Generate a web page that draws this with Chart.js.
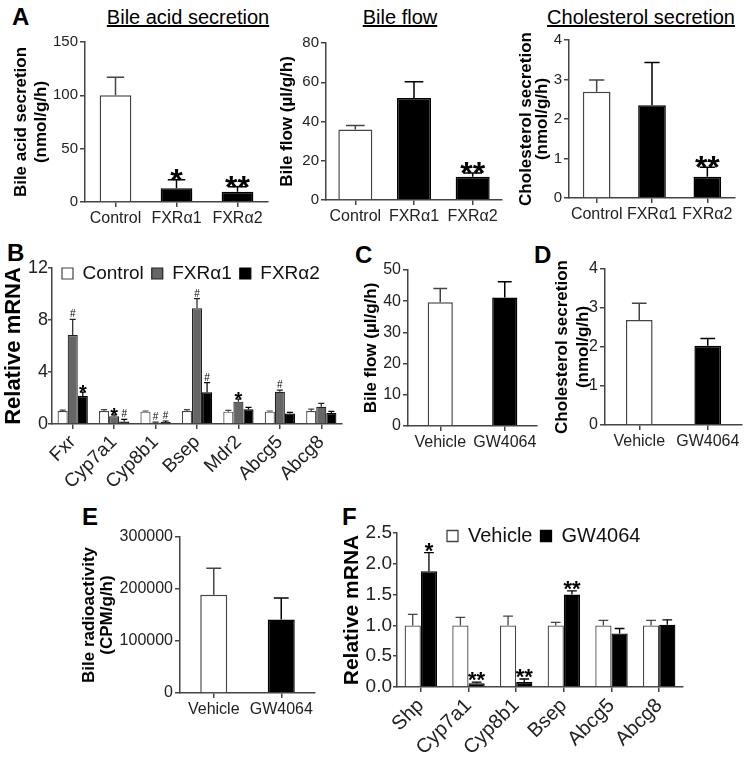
<!DOCTYPE html>
<html>
<head>
<meta charset="utf-8">
<script src="https://cdn.jsdelivr.net/npm/chart.js@4.4.1/dist/chart.umd.min.js"></script>
<style>
  body { margin: 0; background: #fff; }
  #page { position: relative; width: 754px; height: 760px; overflow: hidden; font-family: 'Liberation Sans', Arial, sans-serif; }
  canvas { position: absolute; }
  .letter { position: absolute; font-weight: bold; font-size: 24px; line-height: 24px; color: #000; }
  .title { position: absolute; width: 300px; text-align: center; font-size: 20px; line-height: 20px; text-decoration: underline; color: #000; }
</style>
</head>
<body>
<div id="page">
  <div class="letter" style="left:12px;top:5px">A</div>
  <div class="letter" style="left:7px;top:241px">B</div>
  <div class="letter" style="left:355px;top:243px">C</div>
  <div class="letter" style="left:534px;top:243px">D</div>
  <div class="letter" style="left:82px;top:505px">E</div>
  <div class="letter" style="left:342px;top:505px">F</div>
  <div class="title" style="left:38px;top:7px">Bile acid secretion</div>
  <div class="title" style="left:250px;top:7px">Bile flow</div>
  <div class="title" style="left:491px;top:7px">Cholesterol secretion</div>
  <canvas id="a1"></canvas>
  <canvas id="a2"></canvas>
  <canvas id="a3"></canvas>
  <canvas id="b"></canvas>
  <canvas id="c"></canvas>
  <canvas id="d"></canvas>
  <canvas id="e"></canvas>
  <canvas id="f"></canvas>
</div>
<script>
// --- data ---
const aGroups = ['Control', 'FXRα1', 'FXRα2'];
const bileAcidSec = [100, 12.8, 9.7];
const bileAcidSecSem = [17, 8, 4.5];
const bileAcidSecMarks = ['', '*', '**'];
const bileFlowA = [35.9, 52, 11.9];
const bileFlowASem = [2, 8.2, 1.8];
const bileFlowAMarks = ['', '', '**'];
const cholSecA = [2.69, 2.35, 0.54];
const cholSecASem = [0.3, 1.08, 0.24];
const cholSecAMarks = ['', '', '**'];

const bGenes = ['Fxr', 'Cyp7a1', 'Cyp8b1', 'Bsep', 'Mdr2', 'Abcg5', 'Abcg8'];
const bControl = [1, 1, 0.95, 1, 0.95, 0.95, 1];
const bControlSem = [0.06, 0.1, 0.05, 0.1, 0.1, 0.05, 0.15];
const bFxrA1 = [6.85, 0.6, 0.1, 8.9, 1.72, 2.48, 1.33];
const bFxrA1Sem = [1.2, 0.1, 0.05, 0.75, 0.2, 0.12, 0.26];
const bFxrA1Marks = ['#', '*', '#', '#', '*', '#', ''];
const bFxrA2 = [2.15, 0.2, 0.15, 2.44, 1.13, 0.8, 0.85];
const bFxrA2Sem = [0.3, 0.15, 0.08, 0.74, 0.15, 0.1, 0.12];
const bFxrA2Marks = ['*', '#', '#', '#', '', '', ''];

const gwGroups = ['Vehicle', 'GW4064'];
const bileFlowGW = [39.7, 41.2];
const bileFlowGWSem = [4.4, 5];
const cholSecGW = [2.69, 2.03];
const cholSecGWSem = [0.43, 0.19];
const radioactivity = [189000, 141500];
const radioactivitySem = [51000, 41000];

const fGenes = ['Shp', 'Cyp7a1', 'Cyp8b1', 'Bsep', 'Abcg5', 'Abcg8'];
const fVehicle = [1, 1, 1, 1, 1, 1];
const fVehicleSem = [0.18, 0.13, 0.15, 0.05, 0.08, 0.08];
const fGW = [1.88, 0.06, 0.08, 1.5, 0.87, 1.01];
const fGWSem = [0.3, 0.02, 0.05, 0.06, 0.08, 0.08];
const fGWMarks = ['*', '**', '**', '**', '', ''];

const FONT = "'Liberation Sans', Arial, sans-serif";
const AXIS = '#444';
const TICK = '#222';
const WHITE_EDGE = '#444';

Chart.defaults.font.family = FONT;
Chart.defaults.color = TICK;

// upper error bar + significance marks
const errorBars = {
  id: 'errorBars',
  afterDatasetsDraw(chart, args, opts) {
    const ctx = chart.ctx;
    const y = chart.scales.y;
    chart.data.datasets.forEach((ds, i) => {
      const meta = chart.getDatasetMeta(i);
      meta.data.forEach((bar, j) => {
        const sem = ds.sem ? ds.sem[j] : 0;
        const top = y.getPixelForValue(ds.data[j] + sem);
        const cap = bar.width * (opts.cap || 0.55);
        const col = Array.isArray(ds.borderColor) ? ds.borderColor[j] : ds.borderColor;
        ctx.save();
        ctx.strokeStyle = col;
        ctx.lineWidth = opts.lineWidth || 1.5;
        ctx.beginPath();
        ctx.moveTo(bar.x, bar.y);
        ctx.lineTo(bar.x, top);
        ctx.moveTo(bar.x - cap / 2, top);
        ctx.lineTo(bar.x + cap / 2, top);
        ctx.stroke();
        const mark = ds.marks ? ds.marks[j] : '';
        if (mark) {
          const hash = mark.includes('#');
          ctx.fillStyle = '#000';
          ctx.textAlign = 'center';
          ctx.textBaseline = 'alphabetic';
          ctx.font = hash ? opts.hashFont : opts.starFont;
          ctx.fillText(mark, bar.x, top + (hash ? opts.hashDy : opts.starDy));
        }
        ctx.restore();
      });
    });
  }
};

// legend laid out in one row inside the plot, nudged to where the figure has it
const legendShift = {
  id: 'legendShift',
  beforeLayout(chart) {
    if (chart.legend && chart.legend.options.position === 'chartArea') {
      chart.legend.isHorizontal = () => true;
    }
  },
  afterLayout(chart, args, opts) {
    const lg = chart.legend;
    if (!lg || !lg.options.display || !opts) return;
    const w = lg.width;
    lg.left = chart.chartArea.left + (opts.dx || 0);
    lg.right = lg.left + w;
    lg.top += opts.dy || 0;
    lg.bottom += opts.dy || 0;
  }
};

function panel(id, area, yw, xh, o) {
  const padTop = 14, padRight = 8;
  const cv = document.getElementById(id);
  const w = yw + (area.right - area.left) + padRight;
  const h = padTop + (area.bottom - area.top) + xh;
  cv.width = w; cv.height = h;
  cv.style.width = w + 'px'; cv.style.height = h + 'px';
  cv.style.left = (area.left - yw) + 'px';
  cv.style.top = (area.top - padTop) + 'px';

  return new Chart(cv, {
    type: 'bar',
    data: { labels: o.labels, datasets: o.datasets },
    plugins: [errorBars, legendShift],
    options: {
      responsive: false,
      animation: false,
      devicePixelRatio: 1,
      layout: { padding: { top: padTop, right: padRight, left: 0, bottom: 0 } },
      datasets: { bar: { barPercentage: o.barPct, categoryPercentage: o.catPct } },
      plugins: {
        tooltip: { enabled: false },
        legend: o.legend || { display: false },
        legendShift: o.legendShift || {},
        errorBars: o.err
      },
      scales: {
        x: {
          offset: true,
          grid: { drawOnChartArea: false, offset: false, tickLength: 5, color: AXIS, lineWidth: 1.5 },
          border: { color: AXIS, width: 1.5 },
          ticks: {
            font: { size: o.xFont }, color: TICK, autoSkip: false,
            maxRotation: o.rot || 0, minRotation: o.rot || 0, padding: 2
          },
          afterFit: s => { s.height = xh; }
        },
        y: {
          min: 0, max: o.yMax,
          grid: { drawOnChartArea: false, tickLength: o.yTick || 5, color: AXIS, lineWidth: 1.5 },
          border: { color: AXIS, width: 1.5 },
          ticks: { stepSize: o.yStep, font: { size: o.yFont }, color: TICK, padding: o.yPad === undefined ? 2 : o.yPad, callback: o.yFmt || (v => String(v)) },
          title: {
            display: true, text: o.yTitle, color: '#000',
            font: { size: o.titleSize, weight: 'bold', lineHeight: o.titleLH },
            padding: { top: o.titlePad, bottom: 0 }
          },
          afterFit: s => { s.width = yw; }
        }
      }
    }
  });
}

const whiteBlackBg = ['#ffffff', '#000000', '#000000'];
const whiteBlackEdge = [WHITE_EDGE, '#000000', '#000000'];
const aErr = { cap: 0.55, lineWidth: 1.5, starFont: 'bold 32px ' + FONT, starDy: 11, hashFont: '10px ' + FONT, hashDy: -2 };

panel('a1', { left: 85, top: 42, right: 268, bottom: 202 }, 78, 32, {
  labels: aGroups,
  datasets: [{ data: bileAcidSec, sem: bileAcidSecSem, marks: bileAcidSecMarks,
    backgroundColor: whiteBlackBg, borderColor: whiteBlackEdge, borderWidth: 1.5 }],
  barPct: 0.52, catPct: 1, xFont: 16, yFont: 15, yMax: 150, yStep: 50,
  yTitle: ['Bile acid secretion', '(nmol/g/h)'], titleSize: 17, titleLH: 1.18, titlePad: 4, err: aErr
});

panel('a2', { left: 326, top: 43, right: 502, bottom: 200 }, 53, 32, {
  labels: aGroups,
  datasets: [{ data: bileFlowA, sem: bileFlowASem, marks: bileFlowAMarks,
    backgroundColor: whiteBlackBg, borderColor: whiteBlackEdge, borderWidth: 1.5 }],
  barPct: 0.58, catPct: 1, xFont: 16, yFont: 15, yMax: 80, yStep: 20,
  yTitle: 'Bile flow (µl/g/h)', titleSize: 17, titleLH: 1.18, titlePad: 4, err: aErr
});

panel('a3', { left: 569, top: 40, right: 735, bottom: 198 }, 55, 32, {
  labels: aGroups,
  datasets: [{ data: cholSecA, sem: cholSecASem, marks: cholSecAMarks,
    backgroundColor: whiteBlackBg, borderColor: whiteBlackEdge, borderWidth: 1.5 }],
  barPct: 0.5, catPct: 1, xFont: 16, yFont: 15, yMax: 4, yStep: 1,
  yTitle: ['Cholesterol secretion', '(nmol/g/h)'], titleSize: 17, titleLH: 0.95, titlePad: 4, err: aErr
});

const legendOpts = size => ({
  display: true, position: 'chartArea', align: 'start',
  labels: { boxWidth: 11, boxHeight: 11, padding: 8, font: { size: size }, color: '#111' }
});

panel('b', { left: 52, top: 268, right: 342, bottom: 424 }, 52, 76, {
  labels: bGenes,
  datasets: [
    { label: 'Control', data: bControl, sem: bControlSem, backgroundColor: '#ffffff', borderColor: WHITE_EDGE, borderWidth: 1.2 },
    { label: 'FXRα1', data: bFxrA1, sem: bFxrA1Sem, marks: bFxrA1Marks, backgroundColor: '#666666', borderColor: '#222222', borderWidth: 1.2 },
    { label: 'FXRα2', data: bFxrA2, sem: bFxrA2Sem, marks: bFxrA2Marks, backgroundColor: '#000000', borderColor: '#000000', borderWidth: 1.2 }
  ],
  barPct: 1, catPct: 0.73, xFont: 19, yFont: 18, yMax: 12, yStep: 4, rot: 45, yTick: 4, yPad: 0,
  yTitle: 'Relative mRNA', titleSize: 22, titleLH: 1.2, titlePad: 1,
  legend: legendOpts(19), legendShift: { dx: 2, dy: -12 },
  err: { cap: 0.6, lineWidth: 1.2, starFont: 'bold 20px ' + FONT, starDy: 7, hashFont: '10px ' + FONT, hashDy: -2 }
});

const gwBg = ['#ffffff', '#000000'];
const gwEdge = [WHITE_EDGE, '#000000'];
const gwErr = { cap: 0.55, lineWidth: 1.5 };

panel('c', { left: 408, top: 270, right: 537, bottom: 426 }, 51, 30, {
  labels: gwGroups,
  datasets: [{ data: bileFlowGW, sem: bileFlowGWSem, backgroundColor: gwBg, borderColor: gwEdge, borderWidth: 1.5 }],
  barPct: 0.39, catPct: 1, xFont: 16, yFont: 16, yMax: 50, yStep: 10,
  yTitle: 'Bile flow (µl/g/h)', titleSize: 17, titleLH: 1.18, titlePad: 4, err: gwErr
});

panel('d', { left: 605, top: 269, right: 742, bottom: 425 }, 57, 30, {
  labels: gwGroups,
  datasets: [{ data: cholSecGW, sem: cholSecGWSem, backgroundColor: gwBg, borderColor: gwEdge, borderWidth: 1.5 }],
  barPct: 0.39, catPct: 1, xFont: 16, yFont: 16, yMax: 4, yStep: 1,
  yTitle: ['Cholesterol secretion', '(nmol/g/h)'], titleSize: 17, titleLH: 1.24, titlePad: 3.5, err: gwErr
});

panel('e', { left: 180, top: 537, right: 315, bottom: 693 }, 103, 30, {
  labels: gwGroups,
  datasets: [{ data: radioactivity, sem: radioactivitySem, backgroundColor: gwBg, borderColor: gwEdge, borderWidth: 1.5 }],
  barPct: 0.4, catPct: 1, xFont: 16, yFont: 16, yMax: 300000, yStep: 100000,
  yTitle: ['Bile radioactivity', '(CPM/g/h)'], titleSize: 17, titleLH: 1.03, titlePad: 4, err: gwErr
});

panel('f', { left: 397, top: 533, right: 683, bottom: 687 }, 58, 73, {
  labels: fGenes,
  datasets: [
    { label: 'Vehicle', data: fVehicle, sem: fVehicleSem, backgroundColor: '#ffffff', borderColor: WHITE_EDGE, borderWidth: 1.3 },
    { label: 'GW4064', data: fGW, sem: fGWSem, marks: fGWMarks, backgroundColor: '#000000', borderColor: '#000000', borderWidth: 1.3 }
  ],
  barPct: 1, catPct: 0.68, xFont: 20, yFont: 19, yMax: 2.5, yStep: 0.5, rot: 45, yTick: 4, yPad: 1,
  yFmt: v => v.toFixed(1),
  yTitle: 'Relative mRNA', titleSize: 21, titleLH: 1.2, titlePad: 0.5,
  legend: legendOpts(20), legendShift: { dx: 42, dy: -15 },
  err: { cap: 0.6, lineWidth: 1.3, starFont: 'bold 22px ' + FONT, starDy: 5, hashFont: '10px ' + FONT, hashDy: -2 }
});
</script>
</body>
</html>
